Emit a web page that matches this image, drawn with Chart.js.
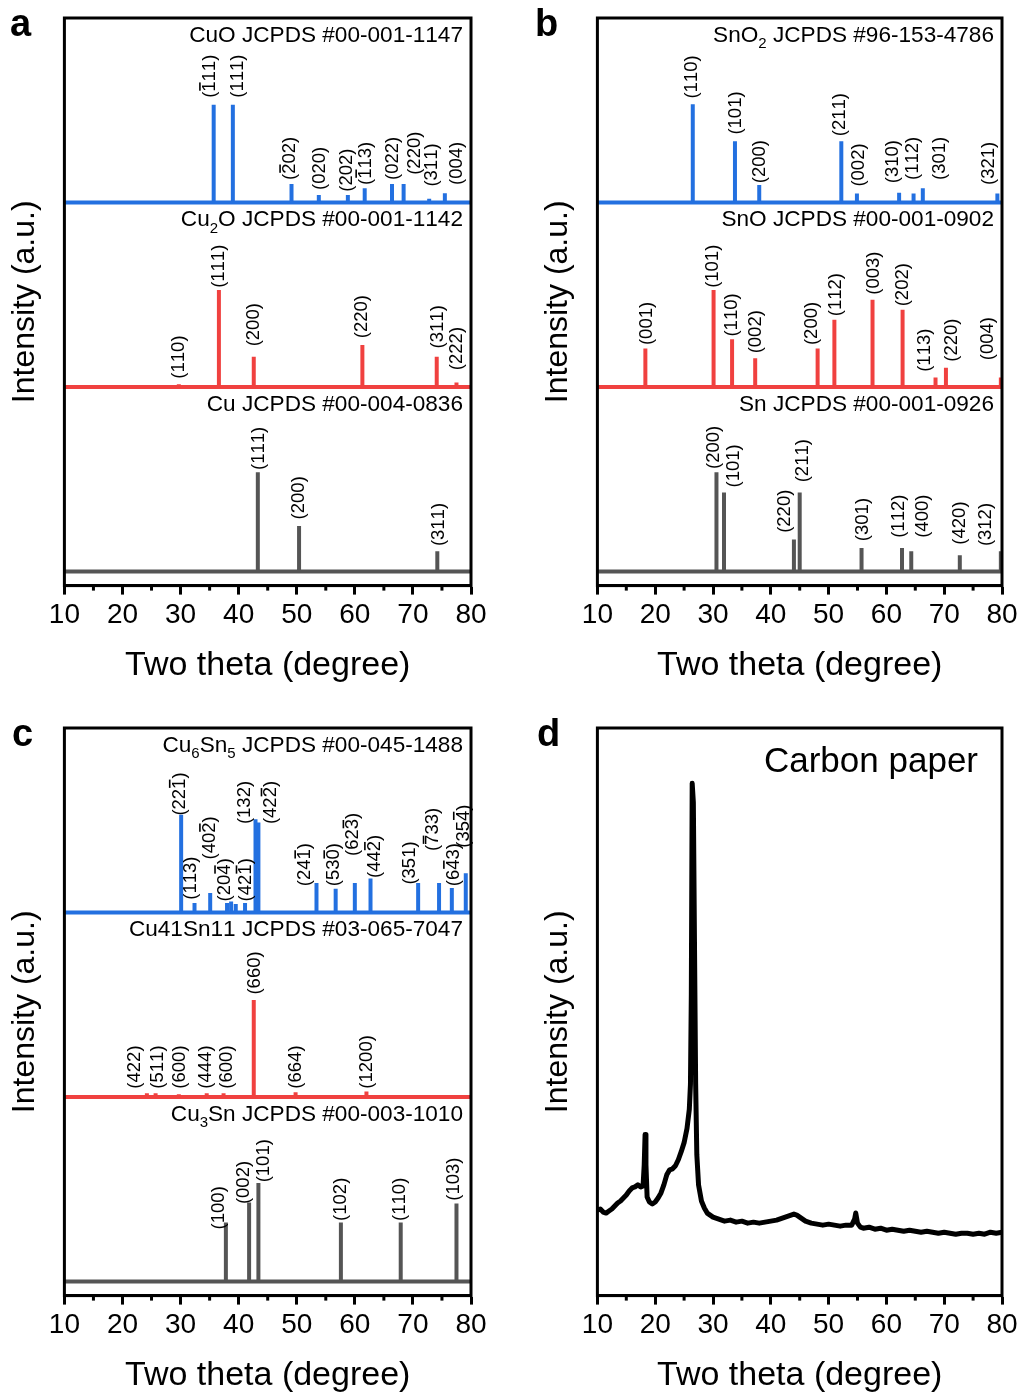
<!DOCTYPE html>
<html>
<head>
<meta charset="utf-8">
<script src="https://cdn.jsdelivr.net/npm/chart.js@4.4.1/dist/chart.umd.min.js"></script>
<style>
  body { margin: 0; background: #fff; width: 1022px; height: 1392px; position: relative; overflow: hidden; }
  canvas { position: absolute; }
</style>
</head>
<body>
<canvas id="pa" width="520" height="700" style="left:0;top:0"></canvas>
<canvas id="pb" width="489" height="700" style="left:533px;top:0"></canvas>
<canvas id="pc" width="520" height="700" style="left:0;top:710px"></canvas>
<canvas id="pd" width="489" height="700" style="left:533px;top:710px"></canvas>
<script>
const FONT = '"Liberation Sans", Arial, sans-serif'
const BLUE = '#2370e0'
const RED = '#f0413f'
const GREY = '#555555'

// ---- panel a ----
const cuoPos = [35.7, 39.0, 49.1, 53.8, 58.8, 61.7, 66.4, 68.4, 72.8, 75.5]
const cuoInt = [0.53, 0.53, 0.10, 0.04, 0.04, 0.077, 0.10, 0.10, 0.02, 0.05]
const cuoHkl = ['(-111)', '(111)', '(-202)', '(020)', '(202)', '(-113)', '(022)', '(220)', '(311)', '(004)']
const cuoLblX = [35.0, 39.9, 48.8, 54.0, 58.6, 61.9, 66.6, 70.3, 73.2, 77.5]
const cuoLblY = [0.567, 0.568, 0.122, 0.068, 0.058, 0.095, 0.122, 0.15, 0.086, 0.095]

const cu2oPos = [29.7, 36.6, 42.6, 61.3, 74.1, 77.5]
const cu2oInt = [0.015, 0.525, 0.164, 0.227, 0.164, 0.024]
const cu2oHkl = ['(110)', '(111)', '(200)', '(220)', '(311)', '(222)']
const cu2oLblX = [29.7, 36.6, 42.6, 61.3, 74.3, 77.6]
const cu2oLblY = [0.045, 0.537, 0.22, 0.264, 0.209, 0.091]

const cuPos = [43.3, 50.4, 74.2]
const cuInt = [0.537, 0.246, 0.109]
const cuHkl = ['(111)', '(200)', '(311)']
const cuLblX = [43.4, 50.4, 74.4]
const cuLblY = [0.55, 0.282, 0.137]

// ---- panel b ----
const sno2Pos = [26.5, 33.8, 38.0, 52.2, 54.9, 62.2, 64.7, 66.3, 79.2]
const sno2Int = [0.532, 0.332, 0.095, 0.332, 0.049, 0.053, 0.049, 0.077, 0.049]
const sno2Hkl = ['(110)', '(101)', '(200)', '(211)', '(002)', '(310)', '(112)', '(301)', '(321)']
const sno2LblX = [26.4, 34.0, 38.2, 52.0, 55.2, 61.2, 64.6, 69.3, 77.8]
const sno2LblY = [0.563, 0.368, 0.104, 0.359, 0.086, 0.104, 0.122, 0.122, 0.095]

const snoPos = [18.3, 30.1, 33.3, 37.3, 48.1, 51.0, 57.6, 62.8, 68.5, 70.3, 79.8]
const snoInt = [0.209, 0.525, 0.258, 0.155, 0.209, 0.364, 0.473, 0.419, 0.051, 0.104, 0.051]
const snoHkl = ['(001)', '(101)', '(110)', '(002)', '(200)', '(112)', '(003)', '(202)', '(113)', '(220)', '(004)']
const snoLblX = [18.5, 30.0, 33.3, 37.4, 47.1, 51.3, 57.8, 62.9, 66.7, 71.3, 77.6]
const snoLblY = [0.227, 0.537, 0.273, 0.182, 0.227, 0.383, 0.5, 0.437, 0.082, 0.137, 0.145]

const snPos = [30.6, 31.9, 44.0, 45.0, 55.7, 62.7, 64.3, 72.7, 79.8]
const snInt = [0.537, 0.428, 0.173, 0.428, 0.127, 0.127, 0.109, 0.087, 0.109]
const snHkl = ['(200)', '(101)', '(220)', '(211)', '(301)', '(112)', '(400)', '(420)', '(312)']
const snLblX = [30.1, 33.7, 42.5, 45.5, 55.9, 62.1, 66.4, 72.7, 77.3]
const snLblY = [0.555, 0.455, 0.209, 0.483, 0.164, 0.182, 0.182, 0.145, 0.137]

// ---- panel c ----
const cu6sn5Pos = [30.1, 32.4, 35.1, 38.0, 38.7, 39.5, 41.1, 42.9, 43.4, 53.4, 56.7, 60.0, 62.7, 70.9, 74.5, 76.7, 79.1]
const cu6sn5Int = [0.53, 0.051, 0.105, 0.051, 0.06, 0.046, 0.051, 0.506, 0.488, 0.16, 0.129, 0.16, 0.184, 0.16, 0.16, 0.133, 0.213]
const cu6sn5Hkl = ['(22-1)', '(113)', '(40-2)', '(20-4)', '', '', '(42-1)', '(132)', '(42-2)', '(24-1)', '(53-0)', '(62-3)', '(44-2)', '(351)', '(-733)', '(6-43)', '(35-4)']
const cu6sn5LblX = [29.8, 31.8, 35.0, 37.6, 0, 0, 41.3, 41.0, 45.6, 51.4, 56.4, 59.7, 63.4, 69.5, 73.5, 77.0, 78.7]
const cu6sn5LblY = [0.525, 0.069, 0.287, 0.06, 0, 0, 0.06, 0.479, 0.479, 0.142, 0.142, 0.306, 0.187, 0.151, 0.333, 0.142, 0.351]

const cu41Pos = [24.2, 25.7, 29.7, 34.5, 37.4, 42.6, 49.8, 62.0]
const cu41Int = [0.02, 0.02, 0.015, 0.02, 0.02, 0.525, 0.025, 0.03]
const cu41Hkl = ['(422)', '(511)', '(600)', '(444)', '(600)', '(660)', '(664)', '(1200)']
const cu41LblX = [22.2, 26.1, 29.9, 34.4, 38.0, 42.8, 49.9, 62.0]
const cu41LblY = [0.045, 0.045, 0.045, 0.045, 0.045, 0.555, 0.045, 0.045]

const cu3snPos = [37.8, 41.8, 43.4, 57.6, 67.9, 77.5]
const cu3snInt = [0.319, 0.428, 0.533, 0.319, 0.319, 0.422]
const cu3snHkl = ['(100)', '(002)', '(101)', '(102)', '(110)', '(103)']
const cu3snLblX = [36.6, 40.9, 44.3, 57.6, 67.8, 77.1]
const cu3snLblY = [0.282, 0.419, 0.537, 0.328, 0.328, 0.437]

// ---- panel d: carbon paper scan ----
const cpTheta = [10.0, 10.5, 11.0, 11.5, 12.0, 12.5, 13.0, 13.5, 14.0, 14.5, 15.0, 15.5, 16.0, 16.5, 17.0, 17.5, 17.9,
  18.1, 18.25, 18.4, 18.6, 19.0, 19.5, 20.0, 20.5, 21.0, 21.5, 22.0, 22.5, 23.0, 23.5, 24.0, 24.5, 25.0, 25.5, 25.9,
  26.1, 26.25, 26.4, 26.6, 26.8, 27.0, 27.2, 27.5, 28.0, 28.5, 29.0, 30.0, 31.0, 32.0, 33.0, 34.0, 35.0, 36.0, 37.0,
  38.0, 39.0, 40.0, 41.0, 42.0, 43.0, 44.0, 44.5, 45.0, 46.0, 47.0, 48.0, 49.0, 50.0, 51.0, 52.0, 53.0, 54.0, 54.5,
  54.7, 55.0, 55.5, 56.0, 57.0, 58.0, 59.0, 60.0, 61.0, 62.0, 63.0, 64.0, 65.0, 66.0, 67.0, 68.0, 69.0, 70.0, 71.0,
  72.0, 73.0, 74.0, 75.0, 76.0, 77.0, 78.0, 79.0, 80.0]
const cpInt = [85, 86, 83, 82, 84, 86, 89, 92, 94, 97, 100, 104, 107, 108, 110, 108, 109,
  130, 160, 130, 98, 93, 91, 93, 97, 102, 110, 120, 125, 126, 129, 135, 143, 152, 166, 185,
  210, 300, 509, 490, 347, 210, 140, 110, 94, 87, 82, 78, 76, 74, 75, 73, 74, 72, 73,
  72, 73, 74, 75, 77, 79, 81, 80, 78, 74, 72, 71, 70, 71, 70, 69, 70, 70, 76,
  82, 72, 68, 67, 68, 66, 67, 65, 66, 65, 64, 65, 64, 63, 64, 63, 62, 63, 62,
  61, 62, 62, 61, 62, 61, 63, 62, 63]

const BAND_MIN = -0.077
const BAND_MAX = 3.0

function stems(pos, ints, base) {
  const pts = [{x: 10, y: base}, {x: 80, y: base}, {x: 80, y: null}]
  pos.forEach((p, i) => {
    pts.push({x: p, y: base}, {x: p, y: base + ints[i]}, {x: p, y: null})
  })
  return pts
}

function drawHkl(ctx, text, px, py) {
  ctx.save()
  ctx.translate(px, py)
  ctx.rotate(-Math.PI / 2)
  ctx.font = '18.5px ' + FONT
  ctx.fillStyle = '#000'
  ctx.textBaseline = 'middle'
  ctx.textAlign = 'left'
  let x = 0
  for (let i = 0; i < text.length; i++) {
    let ch = text[i]
    let bar = false
    if (ch === '-') { bar = true; ch = text[++i] }
    const w = ctx.measureText(ch).width
    ctx.fillText(ch, x, 0)
    if (bar) ctx.fillRect(x + 1, -10.5, w - 2, 1.6)
    x += w
  }
  ctx.restore()
}

// "Cu_2O" -> Cu + subscript 2 + O
function drawTitle(ctx, text, right, baseline, size) {
  const parts = []
  for (let i = 0; i < text.length; i++) {
    if (text[i] === '_') { parts.push({t: text[i + 1], sub: true}); i++ }
    else parts.push({t: text[i], sub: false})
  }
  ctx.save()
  ctx.fillStyle = '#000'
  ctx.textBaseline = 'alphabetic'
  ctx.textAlign = 'left'
  const big = size + 'px ' + FONT
  const small = Math.round(size * 0.65) + 'px ' + FONT
  let total = 0
  parts.forEach(p => { ctx.font = p.sub ? small : big; p.w = ctx.measureText(p.t).width; total += p.w })
  let x = right - total
  parts.forEach(p => {
    ctx.font = p.sub ? small : big
    ctx.fillText(p.t, x, baseline + (p.sub ? size * 0.28 : 0))
    x += p.w
  })
  ctx.restore()
}

const framePlugin = {
  id: 'frame',
  afterDraw(chart) {
    const {ctx, chartArea: a, scales: {x}} = chart
    ctx.save()
    ctx.strokeStyle = '#000'
    ctx.lineWidth = 3
    ctx.strokeRect(a.left, a.top, a.right - a.left, a.bottom - a.top)
    for (let v = 15; v < 80; v += 10) {
      const px = x.getPixelForValue(v)
      ctx.beginPath()
      ctx.moveTo(px, a.bottom)
      ctx.lineTo(px, a.bottom + 5)
      ctx.stroke()
    }
    ctx.restore()
  }
}

function phaseAnnot(groups, letter, letterX) {
  return {
    id: 'annot',
    afterDatasetsDraw(chart) {
      const {ctx, scales: {x, y}, chartArea: a} = chart
      groups.forEach(g => {
        g.hkl.forEach((t, i) => {
          if (!t) return
          drawHkl(ctx, t, x.getPixelForValue(g.lx[i]), y.getPixelForValue(g.base + g.ly[i]))
        })
        drawTitle(ctx, g.title, a.right - 8, y.getPixelForValue(g.base + 1) + 24, 22.6)
      })
      ctx.save()
      ctx.font = 'bold 38px ' + FONT
      ctx.fillStyle = '#000'
      ctx.textBaseline = 'alphabetic'
      ctx.fillText(letter, letterX, 36)
      ctx.restore()
    }
  }
}

function makeChart(id, datasets, yMin, yMax, padRight, annot) {
  return new Chart(document.getElementById(id), {
    type: 'line',
    data: {datasets},
    options: {
      responsive: false,
      animation: false,
      devicePixelRatio: 1,
      events: [],
      layout: {padding: {left: 6, top: 18, right: padRight, bottom: 0}},
      elements: {point: {radius: 0}, line: {tension: 0, borderCapStyle: 'butt'}},
      plugins: {legend: {display: false}, tooltip: {enabled: false}},
      scales: {
        x: {
          type: 'linear', min: 10, max: 80,
          ticks: {stepSize: 10, color: '#000', font: {family: FONT, size: 28}, padding: 4, maxRotation: 0},
          grid: {drawOnChartArea: false, tickLength: 9, tickWidth: 3, tickColor: '#000'},
          border: {color: '#000', width: 3},
          title: {display: true, text: 'Two theta (degree)', color: '#000', font: {family: FONT, size: 34}, padding: {top: 9, bottom: 14}}
        },
        y: {
          min: yMin, max: yMax,
          ticks: {display: false},
          grid: {display: false, drawTicks: false},
          border: {display: false},
          title: {display: true, text: 'Intensity (a.u.)', color: '#000', font: {family: FONT, size: 32}, padding: {top: 0, bottom: 20}}
        }
      }
    },
    plugins: [framePlugin, annot]
  })
}

function phaseSet(pos, ints, base, color) {
  return {data: stems(pos, ints, base), borderColor: color, borderWidth: 4, spanGaps: false, fill: false}
}

makeChart('pa', [
  phaseSet(cuoPos, cuoInt, 2, BLUE),
  phaseSet(cu2oPos, cu2oInt, 1, RED),
  phaseSet(cuPos, cuInt, 0, GREY)
], BAND_MIN, BAND_MAX, 49, phaseAnnot([
  {base: 2, hkl: cuoHkl, lx: cuoLblX, ly: cuoLblY, title: 'CuO JCPDS #00-001-1147'},
  {base: 1, hkl: cu2oHkl, lx: cu2oLblX, ly: cu2oLblY, title: 'Cu_2O JCPDS #00-001-1142'},
  {base: 0, hkl: cuHkl, lx: cuLblX, ly: cuLblY, title: 'Cu JCPDS #00-004-0836'}
], 'a', 10))

makeChart('pb', [
  phaseSet(sno2Pos, sno2Int, 2, BLUE),
  phaseSet(snoPos, snoInt, 1, RED),
  phaseSet(snPos, snInt, 0, GREY)
], BAND_MIN, BAND_MAX, 20, phaseAnnot([
  {base: 2, hkl: sno2Hkl, lx: sno2LblX, ly: sno2LblY, title: 'SnO_2 JCPDS #96-153-4786'},
  {base: 1, hkl: snoHkl, lx: snoLblX, ly: snoLblY, title: 'SnO JCPDS #00-001-0902'},
  {base: 0, hkl: snHkl, lx: snLblX, ly: snLblY, title: 'Sn JCPDS #00-001-0926'}
], 'b', 2))

makeChart('pc', [
  phaseSet(cu6sn5Pos, cu6sn5Int, 2, BLUE),
  phaseSet(cu41Pos, cu41Int, 1, RED),
  phaseSet(cu3snPos, cu3snInt, 0, GREY)
], BAND_MIN, BAND_MAX, 49, phaseAnnot([
  {base: 2, hkl: cu6sn5Hkl, lx: cu6sn5LblX, ly: cu6sn5LblY, title: 'Cu_6Sn_5 JCPDS #00-045-1488'},
  {base: 1, hkl: cu41Hkl, lx: cu41LblX, ly: cu41LblY, title: 'Cu41Sn11 JCPDS #03-065-7047'},
  {base: 0, hkl: cu3snHkl, lx: cu3snLblX, ly: cu3snLblY, title: 'Cu_3Sn JCPDS #00-003-1010'}
], 'c', 12))

const carbonAnnot = {
  id: 'annot',
  afterDatasetsDraw(chart) {
    const {ctx, chartArea: a} = chart
    ctx.save()
    ctx.font = '35px ' + FONT
    ctx.fillStyle = '#000'
    ctx.textAlign = 'right'
    ctx.textBaseline = 'alphabetic'
    ctx.fillText('Carbon paper', a.right - 24, a.top + 44)
    ctx.font = 'bold 38px ' + FONT
    ctx.textAlign = 'left'
    ctx.fillText('d', 4, 36)
    ctx.restore()
  }
}

makeChart('pd', [{
  data: cpTheta.map((t, i) => ({x: t, y: cpInt[i]})),
  borderColor: '#000', borderWidth: 5, fill: false, borderJoinStyle: 'round'
}], 0, 564, 20, carbonAnnot)
</script>
</body>
</html>
